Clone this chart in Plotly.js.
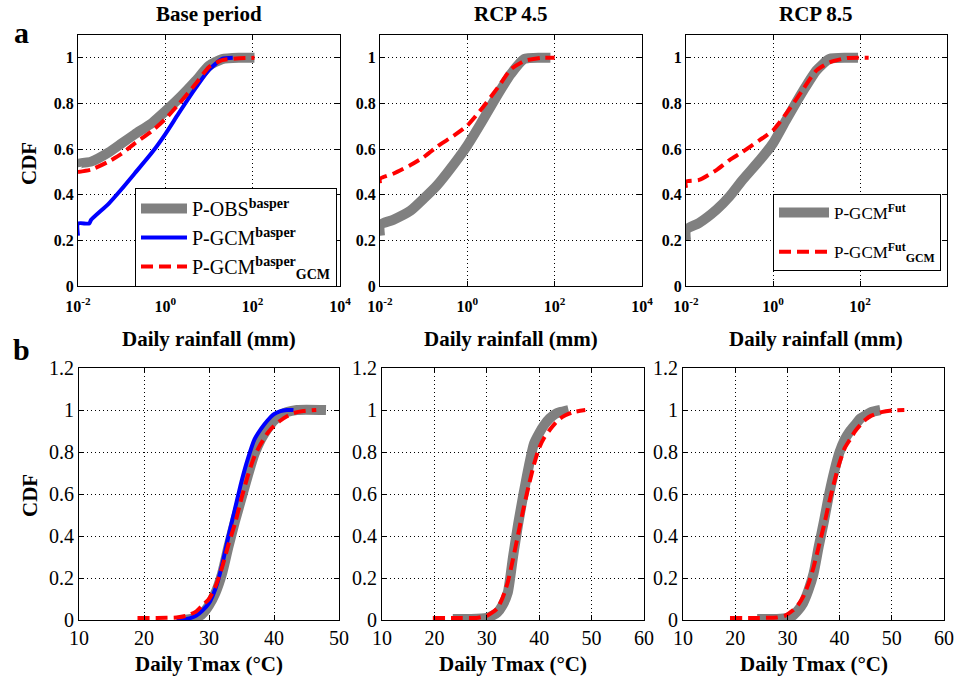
<!DOCTYPE html>
<html>
<head>
<meta charset="utf-8">
<script src="https://cdn.plot.ly/plotly-3.0.1.min.js"></script>
<style>html,body{margin:0;padding:0;background:#fff}#chart{width:958px;height:680px}</style>
</head>
<body>
<div id="chart"></div>
<script>
// ---------------- DATA ----------------
// (a) Daily rainfall CDFs
const panelTitles = ["Base period", "RCP 4.5", "RCP 8.5"];
const rainTickVals = [0.01, 1, 100, 10000];
const rainTickText = ["10<sup>-2</sup>", "10<sup>0</sup>", "10<sup>2</sup>", "10<sup>4</sup>"];

const baseObsRainX   = [0.01, 0.01, 0.02, 0.05, 0.1, 0.2, 0.5, 1, 2, 5, 10, 20, 50, 110];
const baseObsRainCdf = [0.52, 0.535, 0.545, 0.585, 0.625, 0.665, 0.715, 0.766, 0.82, 0.90, 0.965, 0.994, 1.0, 1.0];
const baseGcmRainX   = [0.01, 0.01, 0.018, 0.02, 0.05, 0.1, 0.2, 0.5, 1, 2, 5, 10, 20, 35];
const baseGcmRainCdf = [0.22, 0.274, 0.274, 0.29, 0.36, 0.425, 0.494, 0.586, 0.666, 0.755, 0.869, 0.947, 0.995, 1.0];
const baseCorRainX   = [0.01, 0.02, 0.05, 0.1, 0.2, 0.5, 1, 2, 5, 10, 20, 50, 110];
const baseCorRainCdf = [0.50, 0.51, 0.545, 0.58, 0.625, 0.68, 0.732, 0.796, 0.887, 0.96, 0.99, 0.998, 1.0];

const r45GcmRainX   = [0.01, 0.01, 0.02, 0.05, 0.1, 0.2, 0.5, 1, 2, 5, 10, 20, 50, 80];
const r45GcmRainCdf = [0.22, 0.268, 0.29, 0.33, 0.383, 0.44, 0.536, 0.616, 0.71, 0.84, 0.93, 0.995, 1.0, 1.0];
const r45CorRainX   = [0.01, 0.01, 0.02, 0.05, 0.1, 0.2, 0.5, 1, 2, 5, 10, 20, 50, 100];
const r45CorRainCdf = [0.45, 0.47, 0.492, 0.53, 0.565, 0.61, 0.66, 0.703, 0.77, 0.87, 0.95, 0.986, 1.0, 1.0];

const r85GcmRainX   = [0.01, 0.01, 0.02, 0.05, 0.1, 0.2, 0.5, 1, 2, 5, 10, 20, 50, 90];
const r85GcmRainCdf = [0.20, 0.247, 0.276, 0.334, 0.392, 0.465, 0.552, 0.625, 0.727, 0.857, 0.945, 0.995, 1.0, 1.0];
const r85CorRainX   = [0.01, 0.01, 0.02, 0.05, 0.1, 0.2, 0.5, 1, 2, 5, 10, 20, 50, 158];
const r85CorRainCdf = [0.43, 0.457, 0.465, 0.508, 0.552, 0.588, 0.64, 0.682, 0.755, 0.864, 0.945, 0.98, 0.999, 1.0];

// (b) Daily Tmax CDFs
const baseObsTX   = [26, 28, 29, 30, 31, 32, 33, 34, 35, 36, 37, 38, 39, 40, 41, 42, 43.5, 48];
const baseObsTCdf = [0, 0.01, 0.03, 0.07, 0.13, 0.22, 0.35, 0.47, 0.58, 0.69, 0.79, 0.86, 0.91, 0.95, 0.975, 0.99, 1, 1];
const baseGcmTX   = [25, 27, 28, 29, 30, 31, 32, 33, 34, 35, 36, 37, 38, 39, 40, 41, 42, 43];
const baseGcmTCdf = [0, 0.008, 0.02, 0.045, 0.08, 0.15, 0.26, 0.40, 0.53, 0.66, 0.77, 0.86, 0.91, 0.95, 0.98, 0.995, 1, 1];
const baseCorTX   = [19, 22, 25, 26.5, 28, 29, 30, 31, 32, 33, 34, 35, 36, 37, 38, 39, 40, 41, 42, 43, 44.5, 46.5];
const baseCorTCdf = [0.01, 0.01, 0.012, 0.02, 0.04, 0.07, 0.10, 0.16, 0.25, 0.36, 0.46, 0.58, 0.69, 0.78, 0.84, 0.89, 0.925, 0.95, 0.97, 0.985, 0.995, 1];

const r45GcmTX   = [23.5, 27, 30, 31, 32, 33, 34, 35, 36, 37, 38, 39, 40, 41, 42, 43, 44, 45.6];
const r45GcmTCdf = [0.005, 0.005, 0.01, 0.02, 0.035, 0.07, 0.13, 0.30, 0.46, 0.60, 0.73, 0.84, 0.89, 0.93, 0.96, 0.98, 0.99, 1];
const r45CorTX   = [19.7, 24, 28, 30, 31, 32, 33, 34, 35, 36, 37, 38, 39, 40, 41, 42, 43, 44, 45, 46.5, 48.8];
const r45CorTCdf = [0.01, 0.01, 0.01, 0.02, 0.035, 0.055, 0.105, 0.18, 0.29, 0.41, 0.53, 0.64, 0.74, 0.82, 0.87, 0.905, 0.935, 0.96, 0.975, 0.99, 1];

const r85GcmTX   = [24.2, 28, 30, 31, 32, 33, 34, 35, 36, 37, 38, 39, 40, 41, 42, 43, 44, 45, 46, 47.8];
const r85GcmTCdf = [0.005, 0.005, 0.01, 0.02, 0.045, 0.08, 0.14, 0.22, 0.35, 0.47, 0.60, 0.71, 0.80, 0.86, 0.90, 0.93, 0.96, 0.975, 0.99, 1];
const r85CorTX   = [19, 24, 28, 29.5, 31, 32, 33, 34, 35, 36, 37, 38, 39, 40, 41, 42, 43, 44, 45, 46, 48, 50, 52.4];
const r85CorTCdf = [0.01, 0.01, 0.012, 0.02, 0.045, 0.07, 0.11, 0.17, 0.25, 0.35, 0.45, 0.56, 0.66, 0.75, 0.82, 0.86, 0.90, 0.93, 0.955, 0.972, 0.99, 0.998, 1];

const legendNamesBase = ["P-OBS<sup><b>basper</b></sup>", "P-GCM<sup><b>basper</b></sup>", "P-GCM<sup><b>basper</b></sup><sub><b>GCM</b></sub>"];
const legendNamesFut  = ["P-GCM<sup><b>Fut</b></sup>", "P-GCM<sup><b>Fut</b></sup><sub><b>GCM</b></sub>"];

// ---------------- STYLE ----------------
const W = 958, H = 680;
const px = v => v / W;
const py = v => 1 - v / H;
const SERIF = "Liberation Serif";
const GRAY = "#808080", BLUE = "#0000ff", RED = "#ff0000";
const grayLine = {color: GRAY, width: 10, shape: "spline", smoothing: 0.6};
const blueLine = {color: BLUE, width: 4, shape: "spline", smoothing: 0.6};
const redLine  = {color: RED, width: 4, dash: "12px,6px", shape: "spline", smoothing: 0.6};

function tr(x, y, line, xa, ya, name, legend, showlegend, group) {
  return {type: "scatter", mode: "lines", x: x, y: y, line: line, xaxis: xa, yaxis: ya,
          name: name || "", legend: legend || "legend", showlegend: !!showlegend,
          legendgroup: group || undefined, hoverinfo: "skip"};
}

const traces = [
  tr(baseObsRainX, baseObsRainCdf, grayLine, "x", "y", legendNamesBase[0], "legend", true),
  tr(baseGcmRainX, baseGcmRainCdf, blueLine, "x", "y", legendNamesBase[1], "legend", true),
  tr(baseCorRainX, baseCorRainCdf, redLine, "x", "y", legendNamesBase[2], "legend", true),
  tr(r45GcmRainX, r45GcmRainCdf, grayLine, "x2", "y2"),
  tr(r45CorRainX, r45CorRainCdf, redLine, "x2", "y2"),
  tr(r85GcmRainX, r85GcmRainCdf, grayLine, "x3", "y3", legendNamesFut[0], "legend2", true, "g1"),
  tr(r85CorRainX, r85CorRainCdf, redLine, "x3", "y3", legendNamesFut[1], "legend2", true, "g2"),
  tr(baseObsTX, baseObsTCdf, grayLine, "x4", "y4"),
  tr(baseGcmTX, baseGcmTCdf, blueLine, "x4", "y4"),
  tr(baseCorTX, baseCorTCdf, redLine, "x4", "y4"),
  tr(r45GcmTX, r45GcmTCdf, grayLine, "x5", "y5"),
  tr(r45CorTX, r45CorTCdf, redLine, "x5", "y5"),
  tr(r85GcmTX, r85GcmTCdf, grayLine, "x6", "y6"),
  tr(r85CorTX, r85CorTCdf, redLine, "x6", "y6")
];

const common = {
  showline: true, linecolor: "#000", linewidth: 1, mirror: "allticks",
  ticks: "inside", ticklen: 5, tickcolor: "#000",
  showgrid: true, gridcolor: "#000", gridwidth: 1, griddash: "1px,3px",
  zeroline: false, automargin: false, fixedrange: true
};
const topTickFont = {family: SERIF, size: 16, color: "#000", weight: "bold"};
const botTickFont = {family: SERIF, size: 20, color: "#000"};

function rainX(dom, anchor) {
  return Object.assign({}, common, {domain: dom, anchor: anchor, type: "log", range: [-2, 4],
    tickmode: "array", tickvals: rainTickVals, ticktext: rainTickText, tickfont: topTickFont,
    ticklabelstandoff: 6});
}
function rainY(anchor) {
  return Object.assign({}, common, {domain: [py(286), py(35)], anchor: anchor, range: [0, 1.1],
    tickmode: "linear", tick0: 0, dtick: 0.2, tickfont: topTickFont});
}
function tX(dom, anchor, maxv) {
  return Object.assign({}, common, {domain: dom, anchor: anchor, range: [10, maxv],
    tickmode: "linear", tick0: 10, dtick: 10, tickfont: botTickFont});
}
function tY(anchor) {
  return Object.assign({}, common, {domain: [py(620), py(368)], anchor: anchor, range: [0, 1.2],
    tickmode: "linear", tick0: 0, dtick: 0.2, tickfont: botTickFont});
}

const titleFont = {family: SERIF, size: 21, color: "#000", weight: "bold"};
function ann(text, x, y, font, extra) {
  return Object.assign({text: text, x: px(x), y: py(y), xref: "paper", yref: "paper",
    showarrow: false, xanchor: "center", yanchor: "middle", font: font}, extra || {});
}

const annotations = [
  ann(panelTitles[0], 209, 14, titleFont),
  ann(panelTitles[1], 511, 14, titleFont),
  ann(panelTitles[2], 816, 14, titleFont),
  ann("a", 21, 32, {family: SERIF, size: 30, color: "#000", weight: "bold"}),
  ann("b", 21, 350, {family: SERIF, size: 30, color: "#000", weight: "bold"}),
  ann("CDF", 29, 164, titleFont, {textangle: -90}),
  ann("CDF", 30, 496, titleFont, {textangle: -90}),
  ann("Daily rainfall (mm)", 209, 339, titleFont),
  ann("Daily rainfall (mm)", 511, 339, titleFont),
  ann("Daily rainfall (mm)", 816, 339, titleFont),
  ann("Daily Tmax (°C)", 209, 664, titleFont),
  ann("Daily Tmax (°C)", 513, 664, titleFont),
  ann("Daily Tmax (°C)", 814, 664, titleFont)
];

const layout = {
  width: W, height: H,
  margin: {l: 0, r: 0, t: 0, b: 0},
  paper_bgcolor: "#fff", plot_bgcolor: "#fff",
  font: {family: SERIF, color: "#000"},
  showlegend: true,
  xaxis:  rainX([px(78), px(340)], "y"),
  yaxis:  rainY("x"),
  xaxis2: rainX([px(380), px(642)], "y2"),
  yaxis2: rainY("x2"),
  xaxis3: rainX([px(686), px(947)], "y3"),
  yaxis3: rainY("x3"),
  xaxis4: tX([px(79), px(339)], "y4", 50),
  yaxis4: tY("x4"),
  xaxis5: tX([px(382), px(644)], "y5", 60),
  yaxis5: tY("x5"),
  xaxis6: tX([px(683), px(944)], "y6", 60),
  yaxis6: tY("x6"),
  legend: {
    x: px(135), y: py(188), xanchor: "left", yanchor: "top",
    bgcolor: "#fff", bordercolor: "#000", borderwidth: 1,
    font: {family: SERIF, size: 20, color: "#000"},
    itemwidth: 46, tracegroupgap: 0
  },
  legend2: {
    x: px(773), y: py(194), xanchor: "left", yanchor: "top",
    bgcolor: "#fff", bordercolor: "#000", borderwidth: 1,
    font: {family: SERIF, size: 17, color: "#000"},
    itemwidth: 50, traceorder: "grouped", tracegroupgap: 14
  },
  annotations: annotations
};

Plotly.newPlot("chart", traces, layout, {displayModeBar: false, staticPlot: true});
</script>
</body>
</html>
